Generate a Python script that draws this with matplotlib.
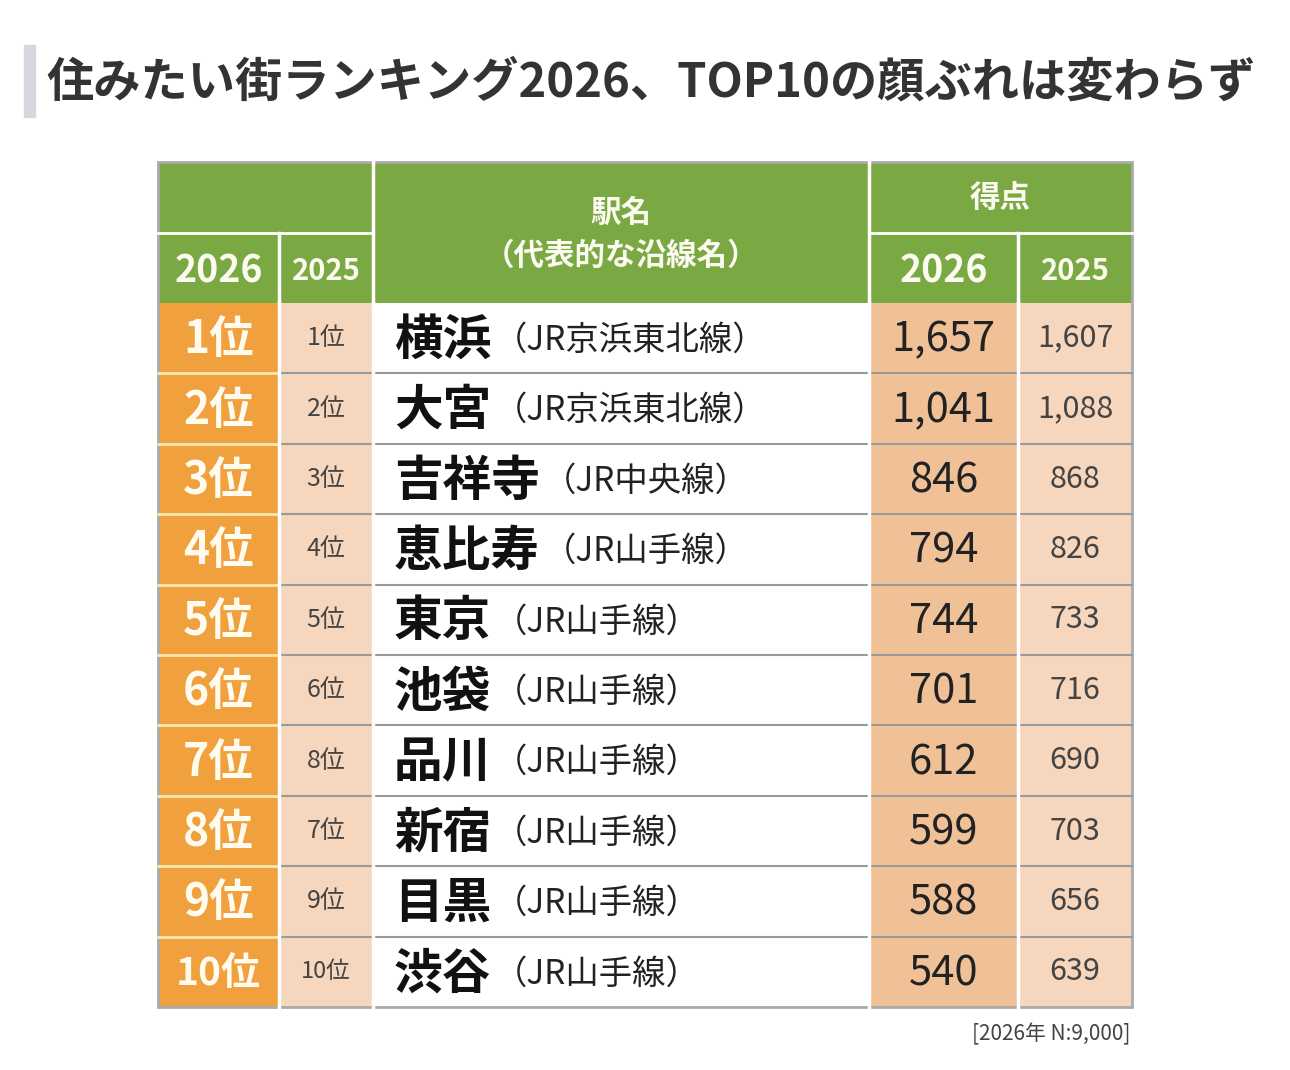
import matplotlib
matplotlib.use("Agg")
import matplotlib.pyplot as plt
from matplotlib.patches import Rectangle

plt.rcParams['font.family'] = ['Noto Sans CJK JP', 'DejaVu Sans']

title = "住みたい街ランキング2026、TOP10の顔ぶれは変わらず"
rank_2026 = ["1位", "2位", "3位", "4位", "5位", "6位", "7位", "8位", "9位", "10位"]
rank_2025 = ["1位", "2位", "3位", "4位", "5位", "6位", "8位", "7位", "9位", "10位"]
stations = ["横浜", "大宮", "吉祥寺", "恵比寿", "東京", "池袋", "品川", "新宿", "目黒", "渋谷"]
lines = ["（JR京浜東北線）", "（JR京浜東北線）", "（JR中央線）", "（JR山手線）", "（JR山手線）",
         "（JR山手線）", "（JR山手線）", "（JR山手線）", "（JR山手線）", "（JR山手線）"]
score_2026 = [1657, 1041, 846, 794, 744, 701, 612, 599, 588, 540]
score_2025 = [1607, 1088, 868, 826, 733, 716, 690, 703, 656, 639]
note = "[2026年 N:9,000]"

GREEN = "#7aa843"
ORANGE = "#f0a03c"
PEACH = "#f6d6bd"
PEACH2 = "#f0c196"
GREY = "#aaaaaa"

fig = plt.figure(figsize=(12.9, 10.7), dpi=100)
ax = fig.add_axes([0, 0, 1, 1])
ax.set_xlim(0, 1290)
ax.set_ylim(1070, 0)
ax.axis("off")

# title
ax.add_patch(Rectangle((24, 45), 11, 72, color="#d5d8de"))
ax.text(46, 82, title, fontsize=34, fontweight="bold", color="#333333", va="center")

cols = [158, 279, 373, 869, 1018, 1132]
top, mid, hdr = 162, 233, 303
row_h = (1007 - hdr) / 10

def rect(x0, y0, x1, y1, c):
    ax.add_patch(Rectangle((x0, y0), x1 - x0, y1 - y0, color=c, lw=0))

rect(cols[0], top, cols[5], hdr, GREEN)
ax.plot([cols[0], cols[2]], [mid, mid], color="white", lw=2)
ax.plot([cols[3], cols[5]], [mid, mid], color="white", lw=2)
for i, x in enumerate(cols[1:5]):
    y0 = top if i in (1, 2) else mid
    ax.plot([x, x], [y0, hdr], color="white", lw=2.5)

hc = "#fbfbef"
ax.text((cols[0] + cols[1]) / 2, 271, "2026", color=hc, fontsize=27, fontweight="bold", ha="center", va="center")
ax.text((cols[1] + cols[2]) / 2, 271, "2025", color=hc, fontsize=21, fontweight="bold", ha="center", va="center")
ax.text((cols[2] + cols[3]) / 2, 213, "駅名", color=hc, fontsize=22, fontweight="bold", ha="center", va="center")
ax.text((cols[2] + cols[3]) / 2, 256, "（代表的な沿線名）", color=hc, fontsize=22, fontweight="bold", ha="center", va="center")
ax.text((cols[3] + cols[5]) / 2, 198, "得点", color=hc, fontsize=22, fontweight="bold", ha="center", va="center")
ax.text((cols[3] + cols[4]) / 2, 271, "2026", color=hc, fontsize=27, fontweight="bold", ha="center", va="center")
ax.text((cols[4] + cols[5]) / 2, 271, "2025", color=hc, fontsize=21, fontweight="bold", ha="center", va="center")

for i in range(10):
    y0 = hdr + i * row_h
    y1 = y0 + row_h
    yc = (y0 + y1) / 2
    rect(cols[0], y0, cols[1], y1, ORANGE)
    rect(cols[1], y0, cols[2], y1, PEACH)
    rect(cols[3], y0, cols[4], y1, PEACH2)
    rect(cols[4], y0, cols[5], y1, PEACH)
    if i > 0:
        ax.plot([cols[0], cols[1]], [y0, y0], color="#fbe7b0", lw=2)
        ax.plot([cols[1], cols[5]], [y0, y0], color="#999999", lw=1.5)
    ax.text((cols[0] + cols[1]) / 2, yc + 2, rank_2026[i], color="#fffbef",
            fontsize=32 if i < 9 else 28, fontweight="bold", ha="center", va="center")
    ax.text((cols[1] + cols[2]) / 2, yc, rank_2025[i], color="#444444",
            fontsize=18 if i < 9 else 17, ha="center", va="center")
    t = ax.text(394, yc + 2, stations[i], color="#111111", fontsize=35, fontweight="bold",
                va="center")
    ax.annotate(lines[i], xy=(1, 0.5), xycoords=t, xytext=(2, 0), textcoords="offset points",
                fontsize=24, color="#222222", va="center")
    ax.text((cols[3] + cols[4]) / 2, yc + 2, f"{score_2026[i]:,}", color="#222222",
            fontsize=30, ha="center", va="center")
    ax.text((cols[4] + cols[5]) / 2, yc, f"{score_2025[i]:,}", color="#444444",
            fontsize=22, ha="center", va="center")

for x in cols[1:5]:
    ax.plot([x, x], [hdr, 1007], color="white", lw=2.5)
ax.add_patch(Rectangle((cols[0], top), cols[5] - cols[0], 1007 - top, fill=False,
                       ec=GREY, lw=2))
ax.text(1130, 1034, note, fontsize=15, color="#444444", ha="right", va="center")

fig.savefig("out.png", dpi=100)
